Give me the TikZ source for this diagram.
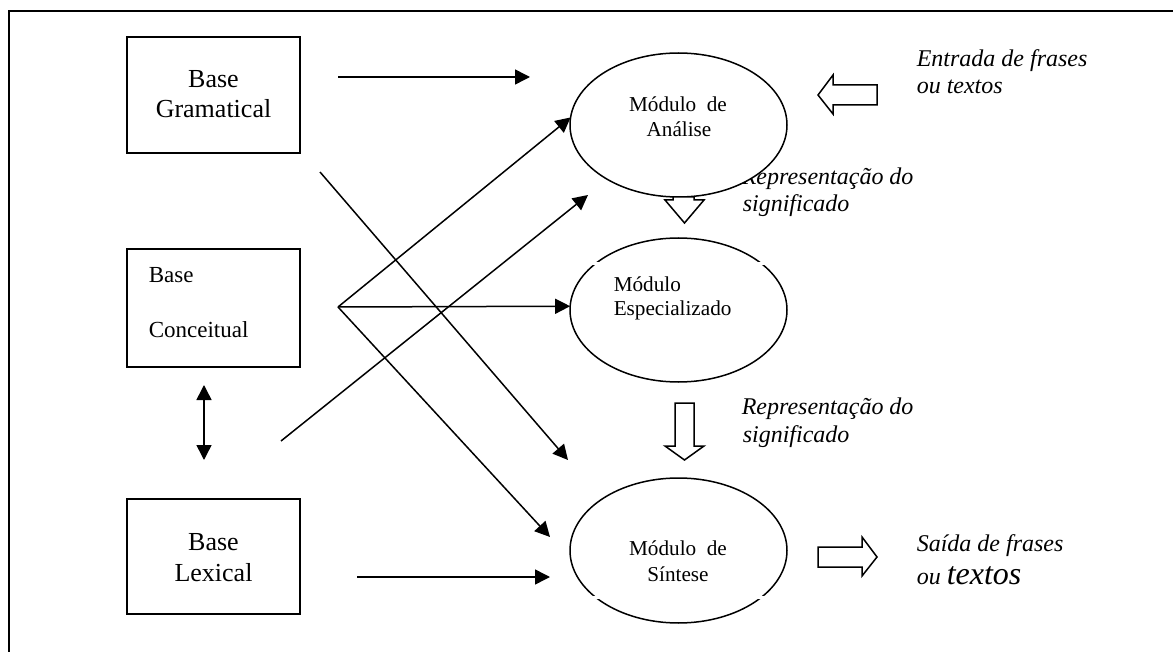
\documentclass[tikz,border=0pt]{standalone}
\usepackage{fontspec}
\setmainfont{Liberation Serif}
\usetikzlibrary{arrows.meta,shapes.geometric}

\begin{document}
\begin{tikzpicture}[x=0.5pt,y=-0.5pt,
  line width=0.75pt,
  basebox/.style={draw, rectangle, minimum width=86.5pt, inner sep=0pt, outer sep=0pt},
  modulo/.style={draw, ellipse, fill=white, minimum width=108.5pt, minimum height=72pt, inner sep=0pt, outer sep=0pt},
  boxtext/.style={inner sep=0pt, anchor=base, font=\fontsize{13}{15}\selectfont},
  conctext/.style={inner sep=0pt, anchor=base west, font=\fontsize{11.5}{13}\selectfont},
  modtext/.style={inner sep=0pt, anchor=base, font=\fontsize{10.6}{12.5}\selectfont},
  note/.style={inner sep=0pt, anchor=base west, font=\fontsize{12}{13.5}\selectfont\itshape},
  link/.style={-{Triangle[length=7.5pt,width=7.5pt]}},
  biglink/.style={{Triangle[length=7.5pt,width=7.5pt]}-{Triangle[length=7.5pt,width=7.5pt]}},
  hollow/.style={draw, line width=0.75pt, fill=white, line join=miter}
]
\useasboundingbox (0,0) rectangle (1173,652);

% outer frame (left and top edges)
\draw[line width=1pt] (9,652) -- (9,11) -- (1173,11);

% knowledge bases
\node[basebox, minimum height=58pt] (gram) at (213.5,95) {};
\node[boxtext] (gramA) at (213.5,88) {Base};
\node[boxtext] (gramB) at (213.5,118) {Gramatical};

\node[basebox, minimum height=59pt] (conc) at (213.5,308) {};
\node[conctext] (concA) at (148,283) {Base};
\node[conctext] (concB) at (148,337) {Conceitual};

\node[basebox, minimum height=57.5pt] (lex) at (213.5,556.5) {};
\node[boxtext] (lexA) at (213.5,550) {Base};
\node[boxtext] (lexB) at (213.5,581) {Lexical};

% meaning representation labels (partly hidden by the analysis module)
\node[note] (rep1a) at (741,185) {Representação do};
\node[note] (rep1b) at (742,212) {significado};
\node[note] (rep2a) at (741,415) {Representação do};
\node[note] (rep2b) at (742,442) {significado};

% input / output labels
\node[note] (inA) at (916,67) {Entrada de frases};
\node[note] (inB) at (916,94) {ou textos};
\node[note] (outA) at (916,551) {Saída de frases};
\node[note] (outB) at (916,584) {ou {\fontsize{16}{18}\selectfont textos}};

% modules
\node[modulo] (ana) at (678.5,125) {};
\node[modulo] (esp) at (678.5,310) {};
\node[modulo, minimum height=72.5pt] (sin) at (678.5,550.5) {};

% small breaks in the outlines of the lower modules
\fill[white] (585,262.5) rectangle (772,265.5);
\fill[white] (585,595.5) rectangle (772,598.5);

\node[modtext] (anaA) at (678,112) {Módulo\ \ de};
\node[modtext] (anaB) at (679,137) {Análise};
\node[modtext, anchor=base west] (espA) at (613,292) {Módulo};
\node[modtext, anchor=base west] (espB) at (613,316) {Especializado};
\node[modtext] (sinA) at (678,555) {Módulo\ \ de};
\node[modtext] (sinB) at (678,581) {Síntese};

% free ends of the connectors
\coordinate (topS) at (338,77);
\coordinate (topE) at (530,77);
\coordinate (lexS) at (357,577);
\coordinate (lexE) at (550,577);
\coordinate (fan) at (338,307);
\coordinate (fanE) at (550,537);
\coordinate (gramS) at (320,172);
\coordinate (gramE) at (568,460);
\coordinate (lowS) at (281,441);
\coordinate (lowE) at (588,195);
\coordinate (dblS) at (204,385);
\coordinate (dblE) at (204,460);

% connectors
\draw[link] (topS) -- (topE);
\draw[link] (lexS) -- (lexE);
\draw[link] (fan) -- (ana.176);
\draw[link] (fan) -- (esp.178);
\draw[link] (fan) -- (fanE);
\draw[link] (gramS) -- (gramE);
\draw[link] (lowS) -- (lowE);
\draw[biglink] (dblS) -- (dblE);

% hollow block arrows
\draw[hollow] (673,197) -- (694,197) -- (694,200) -- (704,200) -- (684.5,223) -- (665,200) -- (673,200) -- cycle;
\draw[hollow] (675,403) -- (694,403) -- (694,446) -- (704,446) -- (684.5,460) -- (665,446) -- (675,446) -- cycle;
\draw[hollow] (877,85) -- (833,85) -- (833,75) -- (818,95) -- (833,114) -- (833,105) -- (877,105) -- cycle;
\draw[hollow] (818,547) -- (862,547) -- (862,537) -- (877,557) -- (862,576) -- (862,567) -- (818,567) -- cycle;
\end{tikzpicture}
\end{document}
